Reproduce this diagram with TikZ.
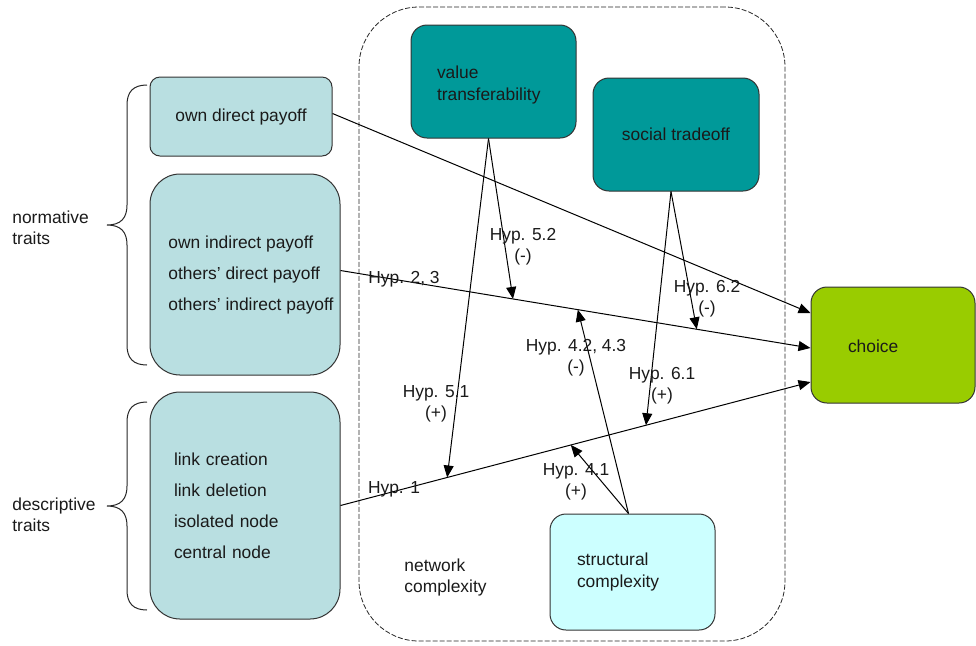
\documentclass[tikz,border=0pt]{standalone}
\usepackage{fontspec}
\setmainfont{Liberation Sans}
\usetikzlibrary{arrows.meta,calc}
\definecolor{boxblue}{HTML}{B9DFE1}
\definecolor{tealbox}{HTML}{009999}
\definecolor{greenbox}{HTML}{99CC00}
\definecolor{cyanbox}{HTML}{CCFFFF}
\definecolor{txt}{HTML}{1A1A1A}
\begin{document}
\begin{tikzpicture}[x=0.5pt,y=-0.5pt,
  font=\fontsize{8.7}{10.5}\selectfont,
  box/.style={draw=black!80, line width=0.5pt, rounded corners=#1, inner sep=0pt, text=txt},
  box/.default=8pt,
  conn/.style={line width=0.5pt, draw=black, -{Triangle[length=6pt,width=5pt]}},
  lab/.style={align=center, text=txt, inner sep=0pt},
  brace/.style={line width=0.5pt, draw=black!85},
  side/.style={align=left, text=txt, inner sep=0pt, anchor=west}
]
\useasboundingbox (0,0) rectangle (976,645);

% network complexity container
\node[draw=black!85, line width=0.4pt, dash pattern=on 2.5pt off 1pt, rounded corners=30pt,
      minimum width=213pt, minimum height=317pt, inner sep=0pt] (net) at (572,324) {};
\node[side] (netlab) at (404,577) {network\\complexity};

% left boxes
\node[box=5pt, fill=boxblue, minimum width=91pt, minimum height=39.5pt] (odp) at (241,116.5) {own direct payoff};
\node[box=15pt, fill=boxblue, minimum width=95pt, minimum height=100.5pt, align=left,
      font=\fontsize{8.7}{15.5}\selectfont] (oth) at (245,274.5)
      {\hspace*{6pt}own indirect payoff\\\hspace*{6pt}others' direct payoff\\\hspace*{6pt}others' indirect payoff};
\node[box=15pt, fill=boxblue, minimum height=113.5pt, text width=71pt, inner xsep=12pt, align=left,
      font=\fontsize{8.7}{15.5}\selectfont] (desc) at (245,505.5)
      {link creation\\link deletion\\isolated node\\central node};

% middle boxes
\node[box, fill=tealbox, minimum height=56.5pt, text width=56.5pt, text height=10pt, inner xsep=13pt, align=left,
      font=\fontsize{8.7}{11}\selectfont] (vt) at (493.5,81.5) {value\\transferability};
\node[box, fill=tealbox, minimum width=83pt, minimum height=56.5pt] (st) at (676,134.5) {social tradeoff};
\node[box, fill=cyanbox, minimum height=58pt, text width=55.5pt, inner xsep=13.5pt, align=left,
      font=\fontsize{8.7}{11}\selectfont] (sc) at (632.5,572) {structural\\complexity};

% choice
\node[box, fill=greenbox, minimum height=58pt, text width=45pt, text height=7.5pt, inner xsep=18.5pt, align=left] (choice) at (893,345) {choice};

% braces
\draw[brace] (147,85) .. controls (133,85) and (127,92) .. (127,105) -- (127,205)
  .. controls (127,218) and (121,225) .. (107,225)
  .. controls (121,225) and (127,232) .. (127,245) -- (127,345)
  .. controls (127,358) and (133,365) .. (147,365);
\draw[brace] (147,402) .. controls (133,402) and (127,409) .. (127,422) -- (127,486)
  .. controls (127,499) and (121,506) .. (107,506)
  .. controls (121,506) and (127,513) .. (127,526) -- (127,590)
  .. controls (127,603) and (133,610) .. (147,610);
\node[side] (norm) at (12,228) {normative\\traits};
\node[side] (descr) at (12,515) {descriptive\\traits};

% main connectors
\coordinate (a1s) at ($(odp.east)+(0,-3)$);
\coordinate (a1e) at ($(choice.west)+(0,-32)$);
\coordinate (a2s) at ($(oth.east)+(0,-4)$);
\coordinate (a2e) at ($(choice.west)+(0,3)$);
\coordinate (a3s) at (desc.east);
\coordinate (a3e) at ($(choice.west)+(0,37)$);
\draw[conn] (a1s) -- (a1e);
\draw[conn] (a2s) -- (a2e);
\draw[conn] (a3s) -- (a3e);

% points on connectors
\coordinate (p52) at ($(a2s)!0.367!(a2e)$);
\coordinate (p42) at ($(a2s)!0.505!(a2e)$);
\coordinate (p62) at ($(a2s)!0.758!(a2e)$);
\coordinate (p51) at ($(a3s)!0.227!(a3e)$);
\coordinate (p41) at ($(a3s)!0.49!(a3e)$);
\coordinate (p61) at ($(a3s)!0.65!(a3e)$);

\coordinate (vts) at ($(vt.south)+(-5,0)$);
\coordinate (sts) at ($(st.south)+(-5,0)$);
\coordinate (scn) at ($(sc.north)+(-4,0)$);

\draw[conn] (vts) -- (p51);
\draw[conn] (vts) -- (p52);
\draw[conn] (sts) -- (p61);
\draw[conn] (sts) -- (p62);
\draw[conn] (scn) -- (p42);
\draw[conn] (scn) -- (p41);

% labels
\node[lab] (l23) at (404,279) {Hyp. 2, 3};
\node[lab] (l1) at (394,489) {Hyp. 1};
\node[lab] (l51) at (436,404) {Hyp. 5.1\\(+)};
\node[lab] (l52) at (523,247) {Hyp. 5.2\\(-)};
\node[lab] (l61) at (662,386) {Hyp. 6.1\\(+)};
\node[lab] (l62) at (707,299) {Hyp. 6.2\\(-)};
\node[lab] (l42) at (576,358) {Hyp. 4.2, 4.3\\(-)};
\node[lab] (l41) at (576,482) {Hyp. 4.1\\(+)};
\end{tikzpicture}
\end{document}
